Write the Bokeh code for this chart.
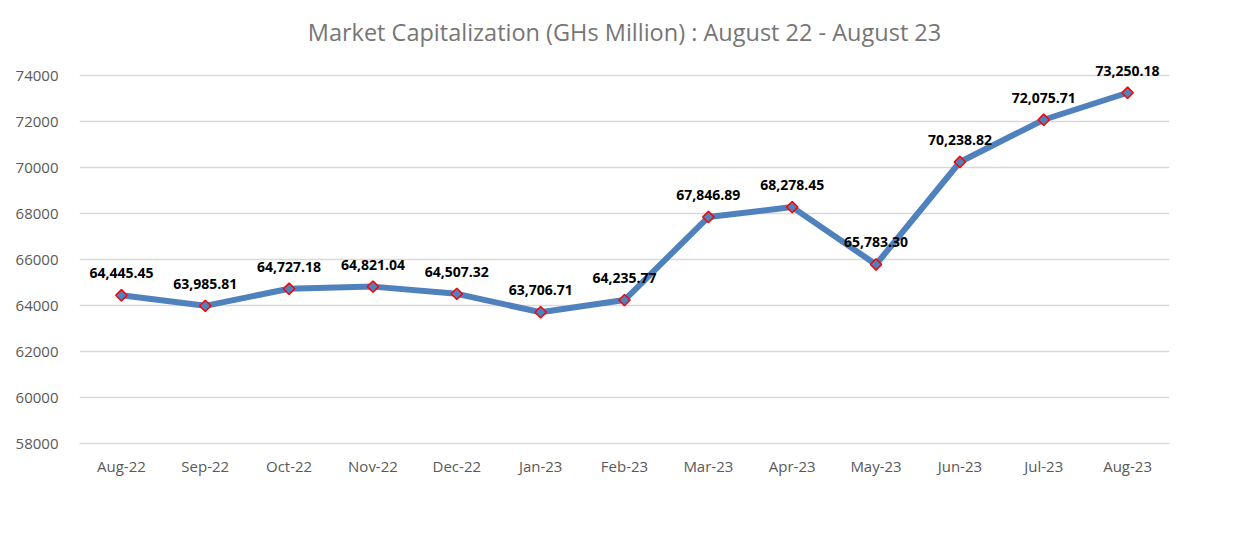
import math
from bokeh.plotting import figure
from bokeh.models import ColumnDataSource, FixedTicker, Range1d, FactorRange, LabelSet
from bokeh.embed import file_html
from bokeh.resources import INLINE
from bokeh.core.properties import value

months = ["Aug-22", "Sep-22", "Oct-22", "Nov-22", "Dec-22", "Jan-23", "Feb-23",
          "Mar-23", "Apr-23", "May-23", "Jun-23", "Jul-23", "Aug-23"]
market_cap = [64445.45, 63985.81, 64727.18, 64821.04, 64507.32, 63706.71, 64235.77,
              67846.89, 68278.45, 65783.30, 70238.82, 72075.71, 73250.18]
y_ticks = [58000, 60000, 62000, 64000, 66000, 68000, 70000, 72000, 74000]

src = ColumnDataSource(dict(
    x=months, y=market_cap,
    lbl=[f"{v:,.2f}" for v in market_cap],
))

# top of range leaves headroom so the last data label is not clipped
p = figure(width=1252, height=550, output_backend="svg", toolbar_location=None,
           x_range=FactorRange(*months, range_padding=0),
           y_range=Range1d(58000, 74870),
           min_border_left=79, min_border_right=83, min_border_top=55, min_border_bottom=107)

p.title.text = "Market Capitalization (GHs Million) : August 22 - August 23"
p.title.align = "center"
p.title.text_font = "Open Sans"
p.title.text_font_style = "normal"
p.title.text_font_size = "23.5px"
p.title.text_color = "#767676"
p.title.standoff = 16

p.outline_line_color = None
p.background_fill_color = "white"
p.border_fill_color = "white"

p.xgrid.grid_line_color = None
p.ygrid.grid_line_color = "#d9d9d9"
p.ygrid.grid_line_width = 1.5

p.yaxis.ticker = FixedTicker(ticks=y_ticks)
p.yaxis.axis_line_color = None
p.yaxis.major_tick_line_color = None
p.yaxis.minor_tick_line_color = None
p.yaxis.major_label_text_font = "Open Sans"
p.yaxis.major_label_text_font_size = "15px"
p.yaxis.major_label_text_color = "#595959"
p.yaxis.major_label_standoff = 15

p.xaxis.axis_line_color = "#d9d9d9"
p.xaxis.axis_line_width = 1.5
p.xaxis.major_tick_line_color = None
p.xaxis.minor_tick_line_color = None
p.xaxis.major_label_text_font = "Open Sans"
p.xaxis.major_label_text_font_size = "15px"
p.xaxis.major_label_text_color = "#595959"
p.xaxis.major_label_standoff = 6

p.line("x", "y", source=src, line_color="#4f81bd", line_width=6, line_join="round")
p.scatter("x", "y", source=src, marker="square", size=8, angle=math.pi / 4,
          fill_color="#4f81bd", line_color="#ff0000", line_width=1.5)

labels = LabelSet(x="x", y="y", text="lbl", source=src, y_offset=22,
                  text_align="center", text_baseline="middle",
                  text_font=value("Open Sans"), text_font_style="bold",
                  text_font_size="14px", text_color="black")
p.add_layout(labels)

open("out.html", "w").write(file_html(p, INLINE))
